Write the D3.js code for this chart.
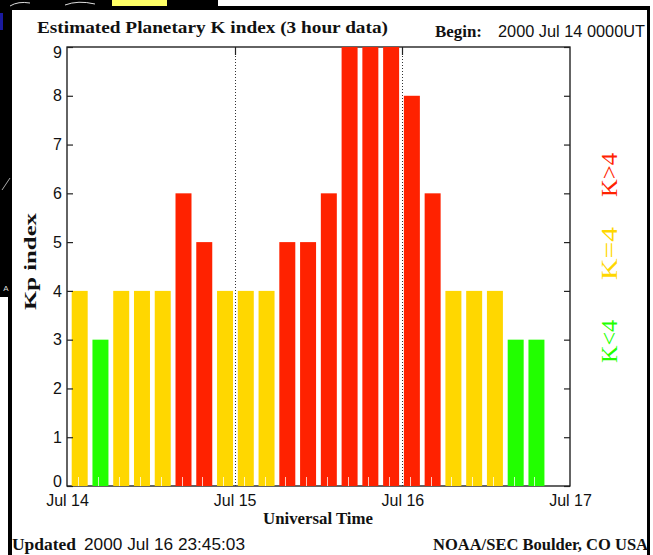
<!DOCTYPE html>
<html>
<head>
<meta charset="utf-8">
<script src="https://cdn.jsdelivr.net/npm/d3@7"></script>
<style>
  html, body { margin: 0; padding: 0; background: #ffffff; }
  svg { display: block; }
</style>
</head>
<body>
<svg id="chart" width="653" height="555"></svg>
<script>
// ---------- data ----------
const dayLabels = ["Jul 14", "Jul 15", "Jul 16", "Jul 17"];
const kpValues = [4, 3, 4, 4, 4, 6, 5, 4,
                  4, 4, 5, 5, 6, 9, 9, 9,
                  8, 6, 4, 4, 4, 3, 3];
const slotCount = 24;
const yTickValues = [0, 1, 2, 3, 4, 5, 6, 7, 8, 9];
const legendLabels = ["K>4", "K=4", "K<4"];
const titleText = "Estimated Planetary K index (3 hour data)";
const beginLabel = "Begin:";
const beginValue = "2000 Jul 14 0000UT";
const updatedLabel = "Updated";
const updatedValue = "2000 Jul 16 23:45:03";
const creditText = "NOAA/SEC Boulder, CO USA";
const xTitle = "Universal Time";
const yTitle = "Kp index";

// ---------- styles ----------
const RED = "#ff2200", YELLOW = "#ffd700", GREEN = "#22ff00";
const colorFor = v => v > 4 ? RED : (v === 4 ? YELLOW : GREEN);
const serif = "'Liberation Serif', 'Times New Roman', serif";
const sans = "'Liberation Sans', Arial, sans-serif";

const svg = d3.select("#chart");

// ---------- surrounding screenshot frame ----------
svg.append("rect").attr("x", 0).attr("y", 0).attr("width", 653).attr("height", 555).attr("fill", "#fff");
svg.append("rect").attr("x", 0).attr("y", 0).attr("width", 12).attr("height", 297).attr("fill", "#000");
svg.append("rect").attr("x", 8).attr("y", 297).attr("width", 4).attr("height", 258).attr("fill", "#000");
svg.append("rect").attr("x", 0).attr("y", 0).attr("width", 112).attr("height", 7).attr("fill", "#000");
svg.append("rect").attr("x", 112).attr("y", 0).attr("width", 55).attr("height", 7).attr("fill", "#ffff66");
svg.append("rect").attr("x", 167).attr("y", 0).attr("width", 51).attr("height", 7).attr("fill", "#000");
svg.append("rect").attr("x", 0).attr("y", 6).attr("width", 650).attr("height", 4).attr("fill", "#000");
svg.append("rect").attr("x", 647).attr("y", 6).attr("width", 3).attr("height", 549).attr("fill", "#000");
svg.append("rect").attr("x", 0).attr("y", 13).attr("width", 3).attr("height", 17).attr("fill", "#1a1aa0");
svg.append("path").attr("d", "M2,190 Q6,184 10,178").attr("stroke", "#aaa").attr("fill", "none");
svg.append("path").attr("d", "M10,6 Q18,1 30,3 M65,5 Q78,0 95,4").attr("stroke", "#ddd").attr("fill", "none");
svg.append("text").attr("x", 6).attr("y", 291).attr("text-anchor", "middle")
  .attr("font-family", sans).attr("font-size", 8).attr("fill", "#ddd").text("A");

// ---------- plot geometry ----------
const plot = { left: 67, right: 570, top: 47, bottom: 486 };

const t0 = new Date(Date.UTC(2000, 6, 14));
const t1 = new Date(Date.UTC(2000, 6, 17));
const xTime = d3.scaleUtc().domain([t0, t1]).range([plot.left, plot.right]);
const dayTicks = dayLabels.map((d, i) => new Date(Date.UTC(2000, 6, 14 + i)));

const xBand = d3.scaleBand().domain(d3.range(slotCount))
  .range([71.7, 565.2]).paddingInner(0.23).paddingOuter(0);

const y = d3.scaleLinear().domain([0, 9]).range([plot.bottom, plot.top]);

// frame
svg.append("rect").attr("x", plot.left).attr("y", plot.top)
  .attr("width", plot.right - plot.left).attr("height", plot.bottom - plot.top)
  .attr("fill", "none").attr("stroke", "#111").attr("stroke-width", 1.3);

// day separators (dotted) and inward day ticks
const inner = dayTicks.slice(1, -1);
svg.append("g").selectAll("line").data(inner).join("line")
  .attr("x1", d => Math.round(xTime(d)) + 0.5).attr("x2", d => Math.round(xTime(d)) + 0.5)
  .attr("y1", plot.top).attr("y2", plot.bottom)
  .attr("stroke", "#333").attr("stroke-dasharray", "1,2");
svg.append("g").selectAll("line").data(inner).join("line")
  .attr("x1", d => Math.round(xTime(d)) + 0.5).attr("x2", d => Math.round(xTime(d)) + 0.5)
  .attr("y1", plot.top).attr("y2", plot.top + 8)
  .attr("stroke", "#222").attr("stroke-width", 1.2);

// bars
svg.append("g").selectAll("rect").data(kpValues).join("rect")
  .attr("x", (d, i) => xBand(i))
  .attr("width", xBand.bandwidth())
  .attr("y", d => y(d))
  .attr("height", d => y(0) - y(d))
  .attr("fill", d => colorFor(d));

// faint minor ticks inside bars at bottom
svg.append("g").selectAll("line").data(kpValues).join("line")
  .attr("x1", (d, i) => Math.round(xBand(i) + 6) + 0.5)
  .attr("x2", (d, i) => Math.round(xBand(i) + 6) + 0.5)
  .attr("y1", plot.bottom - 9).attr("y2", plot.bottom)
  .attr("stroke", "#fff").attr("stroke-opacity", 0.75);

// left axis
const yAxis = d3.axisLeft(y).tickValues(yTickValues).tickFormat(d3.format("d"))
  .tickSizeInner(-6).tickSizeOuter(0).tickPadding(5);
const gy = svg.append("g").attr("transform", `translate(${plot.left},0)`).call(yAxis);
gy.select(".domain").remove();
gy.selectAll("line").attr("stroke", "#222").attr("stroke-width", 1.2);
gy.selectAll("text").attr("font-family", sans).attr("font-size", 16).attr("fill", "#111");
// end labels are kept inside the plot's vertical extent
gy.selectAll(".tick text").attr("y", d => d === 9 ? 5.5 : (d === 0 ? -5 : 0));

// right axis (ticks only)
const yAxisR = d3.axisRight(y).tickValues(yTickValues).tickFormat("")
  .tickSizeInner(-6).tickSizeOuter(0);
const gyr = svg.append("g").attr("transform", `translate(${plot.right},0)`).call(yAxisR);
gyr.select(".domain").remove();
gyr.selectAll("line").attr("stroke", "#222").attr("stroke-width", 1.2);

// bottom axis (day labels)
const xAxis = d3.axisBottom(xTime).tickValues(dayTicks)
  .tickFormat((d, i) => dayLabels[i]).tickSizeInner(0).tickSizeOuter(0).tickPadding(9);
const gx = svg.append("g").attr("transform", `translate(0,${plot.bottom})`).call(xAxis);
gx.select(".domain").remove();
gx.selectAll("line").remove();
gx.selectAll("text").attr("font-family", sans).attr("font-size", 16).attr("fill", "#111");

// ---------- texts ----------
function txt(x, yy, s, opts) {
  const t = svg.append("text").attr("x", x).attr("y", yy).text(s)
    .attr("font-family", opts.family || serif)
    .attr("font-size", opts.size || 16)
    .attr("font-weight", opts.weight || "normal")
    .attr("fill", opts.fill || "#111");
  if (opts.anchor) t.attr("text-anchor", opts.anchor);
  if (opts.len) t.attr("textLength", opts.len).attr("lengthAdjust", "spacingAndGlyphs");
  if (opts.transform) t.attr("transform", opts.transform);
  return t;
}

txt(37, 33, titleText, { size: 17, weight: "bold", len: 351 });
txt(435, 37, beginLabel, { size: 16, weight: "bold", len: 47 });
txt(498, 37, beginValue, { family: sans, size: 16, len: 147 });

txt(263, 524, xTitle, { size: 16, weight: "bold", len: 110 });

txt(12, 550, updatedLabel, { size: 16, weight: "bold", len: 64 });
txt(84, 550, updatedValue, { family: sans, size: 16, len: 161 });
txt(433, 550, creditText, { size: 16, weight: "bold", len: 215 });

// y title (rotated)
txt(0, 0, yTitle, { size: 16, weight: "bold", len: 97, transform: "translate(36,310) rotate(-90)" });

// legend (rotated, right side)
const legendColors = [RED, YELLOW, GREEN];
const legendStart = [197, 280, 363];
const legendLen = [44, 53, 43];
legendLabels.forEach((s, i) => {
  txt(0, 0, s, { size: 24, fill: legendColors[i], len: legendLen[i],
    transform: `translate(617,${legendStart[i]}) rotate(-90)` });
});
</script>
</body>
</html>
